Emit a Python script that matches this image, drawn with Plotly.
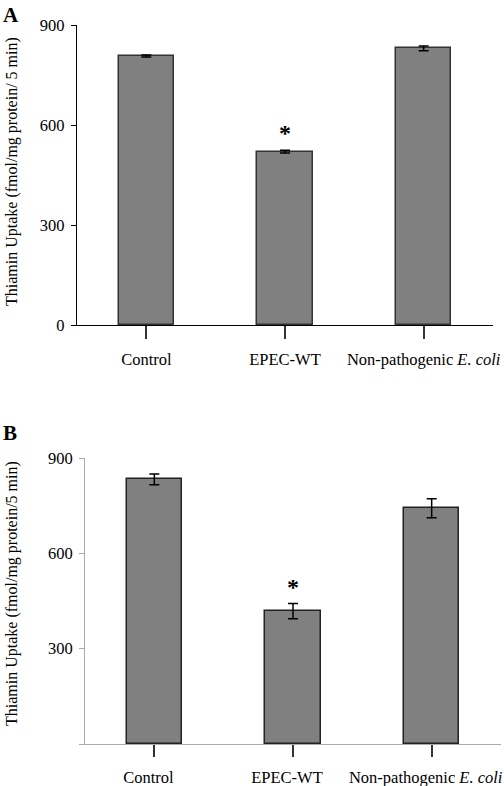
import plotly.graph_objects as go

categories = ["Control", "EPEC-WT", "Non-pathogenic <i>E. coli</i>"]
values_a = [807, 520, 830]
errors_a = [3, 4, 7]
values_b = [833, 418, 742]
errors_b = [17, 24, 30]
yticks = [0, 300, 600, 900]
yticklabels_a = ["0", "300", "600", "900"]
yticklabels_b = ["", "300", "600", "900"]

W, H = 504, 786
def px(x): return x / W
def py(y): return 1 - y / H

FONT = "Liberation Serif"
fig = go.Figure()

fig.add_trace(go.Bar(x=[0, 1, 2], y=values_a, width=0.4,
                     marker=dict(color="#808080", line=dict(color="#333333", width=1.5)),
                     error_y=dict(type="data", array=errors_a, color="black", thickness=1.5, width=5),
                     xaxis="x", yaxis="y", showlegend=False))
fig.add_trace(go.Bar(x=[0, 1, 2], y=values_b, width=0.4,
                     marker=dict(color="#808080", line=dict(color="#222222", width=1.5)),
                     error_y=dict(type="data", array=errors_b, color="black", thickness=1.5, width=5),
                     xaxis="x2", yaxis="y2", showlegend=False))

axfont = dict(family=FONT, size=16.5, color="black")
fig.update_layout(
    template="none",
    width=W, height=H, margin=dict(l=0, r=0, t=0, b=0, pad=0),
    paper_bgcolor="white", plot_bgcolor="white",
    bargap=0,
    xaxis=dict(domain=[px(77), px(493)], anchor="y", range=[-0.5, 2.5], automargin=False,
               tickvals=[0, 1, 2], ticktext=categories, ticks="outside", ticklen=13,
               tickcolor="#333", tickwidth=1.5, showline=True, linecolor="black", linewidth=1.2,
               showgrid=False, zeroline=False, tickfont=axfont, ticklabelstandoff=6,
               ticklabeloverflow="allow"),
    yaxis=dict(domain=[py(325), py(25)], anchor="x", range=[0, 900], automargin=False,
               tickvals=yticks, ticktext=yticklabels_a, ticks="outside", ticklen=5,
               tickcolor="black", showline=True, linecolor="black", linewidth=1.2,
               showgrid=False, zeroline=False, tickfont=axfont, ticklabelstandoff=3),
    xaxis2=dict(domain=[px(85), px(501)], anchor="y2", range=[-0.5, 2.5], automargin=False,
                tickvals=[0, 1, 2], ticktext=categories, ticks="outside", ticklen=12,
                tickcolor="#333", tickwidth=1.5, showline=True, linecolor="#aaaaaa", linewidth=1,
                showgrid=False, zeroline=False, tickfont=axfont, ticklabelstandoff=6,
                ticklabelshift=-6, ticklabeloverflow="allow"),
    yaxis2=dict(domain=[py(744), py(458)], anchor="x2", range=[0, 900], automargin=False,
                tickvals=yticks, ticktext=yticklabels_b, ticks="outside", ticklen=5,
                tickcolor="#aaaaaa", showline=True, linecolor="#aaaaaa", linewidth=1,
                showgrid=False, zeroline=False, tickfont=axfont, ticklabelstandoff=3),
)

# extend y axis A slightly below zero
fig.add_shape(type="line", xref="x domain", yref="y", x0=0, x1=0, y0=0, y1=-22,
              line=dict(color="black", width=1.2))

ann = []
ann.append(dict(text="<b>A</b>", x=px(1), y=py(1), xref="paper", yref="paper",
                xanchor="left", yanchor="top", showarrow=False,
                font=dict(family=FONT, size=21, color="black")))
ann.append(dict(text="<b>B</b>", x=px(1), y=py(419), xref="paper", yref="paper",
                xanchor="left", yanchor="top", showarrow=False,
                font=dict(family=FONT, size=21, color="black")))
ann.append(dict(text="Thiamin Uptake (fmol/mg protein/ 5 min)", x=px(12), y=py(172),
                xref="paper", yref="paper", textangle=-90, showarrow=False,
                xanchor="center", yanchor="middle",
                font=dict(family=FONT, size=16, color="black")))
ann.append(dict(text="Thiamin Uptake (fmol/mg protein/5 min)", x=px(12), y=py(594),
                xref="paper", yref="paper", textangle=-90, showarrow=False,
                xanchor="center", yanchor="middle",
                font=dict(family=FONT, size=16, color="black")))
ann.append(dict(text="<b>*</b>", x=1, y=values_a[1] + errors_a[1], xref="x", yref="y",
                yanchor="bottom", yshift=2, showarrow=False,
                font=dict(family=FONT, size=24, color="black")))
ann.append(dict(text="<b>*</b>", x=1, y=values_b[1] + errors_b[1], xref="x2", yref="y2",
                yanchor="bottom", yshift=2, showarrow=False,
                font=dict(family=FONT, size=24, color="black")))
fig.update_layout(annotations=ann)

fig.write_html("out.html", config={"displayModeBar": False},
               post_script="document.body.style.margin='0';document.body.style.overflow='hidden';")
